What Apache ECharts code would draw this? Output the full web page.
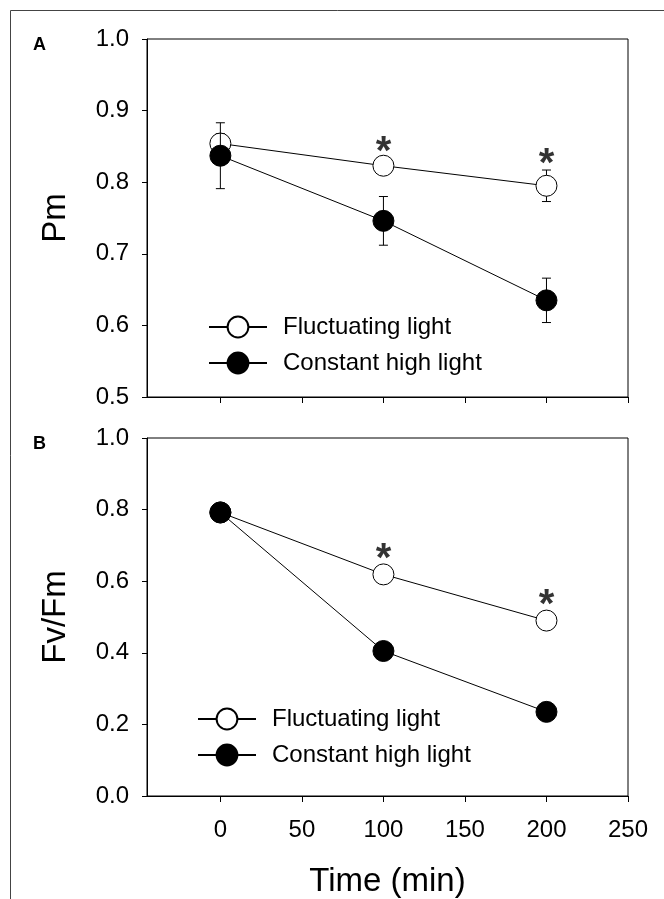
<!DOCTYPE html>
<html>
<head>
<meta charset="utf-8">
<script src="https://cdn.jsdelivr.net/npm/echarts@6/dist/echarts.min.js"></script>
<style>
  html, body { margin: 0; padding: 0; background: #fff; }
  #chart { width: 664px; height: 899px; }
</style>
</head>
<body>
<div id="chart"></div>
<script>
// 数据
const times = [0, 100, 200];
const xTicks = [0, 50, 100, 150, 200, 250];
// panel A (Pm)
const pmFluct = [0.854, 0.823, 0.795];
const pmFluctErr = [0.014, 0.008, 0.022];
const pmConst = [0.837, 0.746, 0.635];
const pmConstErr = [0.046, 0.034, 0.031];
const pmStars = [[100, 0.855], [200, 0.838]];
// panel B (Fv/Fm)
const fvFluct = [0.792, 0.619, 0.490];
const fvConst = [0.792, 0.405, 0.235];
const fvStars = [[100, 0.688], [200, 0.558]];

const FONT = "'Liberation Sans', Arial, sans-serif";

function pairs(ys) {
  return times.map((t, i) => [t, ys[i]]);
}
function errData(ys, es) {
  return times.map((t, i) => [t, ys[i], es[i]]);
}
// 误差线
function errRender(params, api) {
  const x = api.value(0), y = api.value(1), e = api.value(2);
  const top = api.coord([x, y + e]);
  const bot = api.coord([x, y - e]);
  const h = 4.5;
  const st = { stroke: '#000', lineWidth: 1 };
  return {
    type: 'group',
    children: [
      { type: 'line', shape: { x1: top[0], y1: top[1], x2: bot[0], y2: bot[1] }, style: st },
      { type: 'line', shape: { x1: top[0] - h, y1: top[1], x2: top[0] + h, y2: top[1] }, style: st },
      { type: 'line', shape: { x1: bot[0] - h, y1: bot[1], x2: bot[0] + h, y2: bot[1] }, style: st }
    ]
  };
}

function xAxisCfg(idx, showLabel) {
  return {
    type: 'value', gridIndex: idx, min: -45, max: 250,
    splitLine: { show: false },
    axisLine: { onZero: false, lineStyle: { color: '#000', width: 1 } },
    axisTick: { customValues: xTicks, length: 6, lineStyle: { color: '#000' } },
    axisLabel: {
      show: showLabel, customValues: xTicks, margin: 22,
      color: '#000', fontSize: 24, fontFamily: FONT
    },
    name: showLabel ? 'Time (min)' : '',
    nameLocation: 'middle', nameGap: 69,
    nameTextStyle: { color: '#000', fontSize: 33, fontFamily: FONT }
  };
}
function yAxisCfg(idx, min, max, step, title) {
  return {
    type: 'value', gridIndex: idx, min: min, max: max, interval: step,
    splitLine: { show: false },
    axisLine: { show: true, onZero: false, lineStyle: { color: '#000', width: 1 } },
    axisTick: { show: true, length: 5, lineStyle: { color: '#000' } },
    axisLabel: {
      margin: 18, color: '#000', fontSize: 24, fontFamily: FONT,
      formatter: v => v.toFixed(1)
    },
    name: title, nameLocation: 'middle', nameRotate: 90, nameGap: 75,
    nameTextStyle: { color: '#000', fontSize: 33, fontFamily: FONT }
  };
}

const openStyle = { color: '#fff', borderColor: '#000', borderWidth: 1 };
const fillStyle = { color: '#000', borderColor: '#000', borderWidth: 1 };
const lineSt = { color: '#000', width: 1 };
const starLabel = {
  show: true, position: 'inside', formatter: '*', offset: [0, 10],
  color: '#000', fontSize: 40, fontWeight: 'bold', fontFamily: FONT
};
const legendText = { fontSize: 24, fontFamily: FONT, color: '#000', padding: [0, 0, 0, 11] };

const chart = echarts.init(document.getElementById('chart'));
chart.setOption({
  animation: false,
  backgroundColor: '#fff',
  grid: [
    { left: 147, right: 36, top: 39, height: 358, show: true, borderColor: '#000', borderWidth: 1 },
    { left: 147, right: 36, top: 438, height: 358, show: true, borderColor: '#000', borderWidth: 1 }
  ],
  xAxis: [xAxisCfg(0, false), xAxisCfg(1, true)],
  yAxis: [yAxisCfg(0, 0.5, 1.0, 0.1, 'Pm'), yAxisCfg(1, 0, 1.0, 0.2, 'Fv/Fm')],
  legend: [
    {
      data: ['Fluctuating light', 'Constant high light'], orient: 'vertical', padding: 0,
      left: 208, top: 315, itemWidth: 58, itemHeight: 26, itemGap: 12, selectedMode: false,
      textStyle: legendText
    },
    {
      data: ['Fluctuating light', 'Constant high light'], orient: 'vertical', padding: 0,
      left: 197, top: 707, itemWidth: 58, itemHeight: 26, itemGap: 12, selectedMode: false,
      textStyle: legendText
    }
  ],
  graphic: [
    { type: 'rect', shape: { x: 10.5, y: 10.5, width: 720, height: 960 },
      style: { fill: 'none', stroke: '#444', lineWidth: 1 }, silent: true },
    { type: 'text', left: 33, top: 36, style: { text: 'A', font: 'bold 18px ' + FONT, fill: '#000' } },
    { type: 'text', left: 33, top: 435, style: { text: 'B', font: 'bold 18px ' + FONT, fill: '#000' } }
  ],
  series: [
    // A
    { type: 'custom', xAxisIndex: 0, yAxisIndex: 0, z: 1, renderItem: errRender, data: errData(pmFluct, pmFluctErr) },
    { name: 'Fluctuating light', type: 'line', xAxisIndex: 0, yAxisIndex: 0, z: 2,
      data: pairs(pmFluct), symbol: 'circle', symbolSize: 21, itemStyle: openStyle, lineStyle: lineSt },
    { type: 'custom', xAxisIndex: 0, yAxisIndex: 0, z: 3, renderItem: errRender, data: errData(pmConst, pmConstErr) },
    { name: 'Constant high light', type: 'line', xAxisIndex: 0, yAxisIndex: 0, z: 4,
      data: pairs(pmConst), symbol: 'circle', symbolSize: 21, itemStyle: fillStyle, lineStyle: lineSt },
    { type: 'scatter', xAxisIndex: 0, yAxisIndex: 0, z: 5, symbolSize: 0, data: pmStars, label: starLabel },
    // B
    { name: 'Fluctuating light', type: 'line', xAxisIndex: 1, yAxisIndex: 1, z: 2,
      data: pairs(fvFluct), symbol: 'circle', symbolSize: 21, itemStyle: openStyle, lineStyle: lineSt },
    { name: 'Constant high light', type: 'line', xAxisIndex: 1, yAxisIndex: 1, z: 4,
      data: pairs(fvConst), symbol: 'circle', symbolSize: 21, itemStyle: fillStyle, lineStyle: lineSt },
    { type: 'scatter', xAxisIndex: 1, yAxisIndex: 1, z: 5, symbolSize: 0, data: fvStars, label: starLabel }
  ]
});
</script>
</body>
</html>
